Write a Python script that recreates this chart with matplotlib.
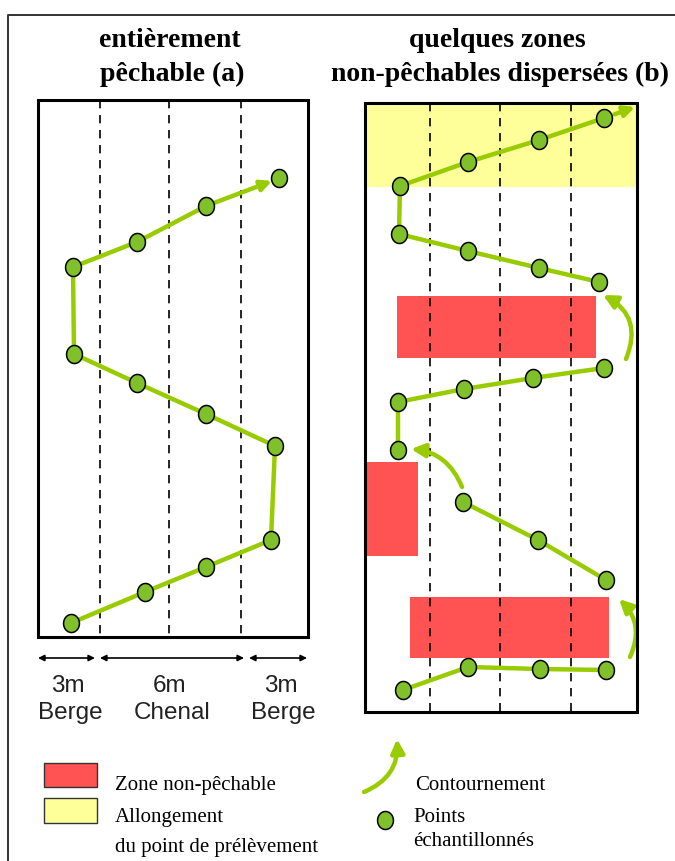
import matplotlib
matplotlib.use("Agg")
import numpy as np
import matplotlib.pyplot as plt
from matplotlib.patches import Rectangle, FancyArrowPatch
from matplotlib.path import Path

W, H = 675, 861

# panel (a): sampling points, bottom to top (pixel coords of the sketch)
ptsA_x = [71, 145, 206, 271, 275, 206, 137, 74, 73, 137, 206, 279]
ptsA_y = [623, 592, 567, 540, 446, 414, 383, 354, 267, 242, 206, 178]

# panel (b): four straight runs of points
runsB = [
    ([403, 468, 540, 606], [690, 667, 669, 670]),
    ([606, 538, 463], [580, 540, 502]),
    ([398, 398, 464, 533, 604], [450, 402, 389, 378, 368]),
    ([599, 539, 468, 399, 400, 468, 539, 604], [282, 268, 251, 234, 186, 162, 140, 118]),
]
# curved detours (start, end, bend)
detours = [((630, 657), (619, 599), 0.35),
           ((462, 487), (411, 449), 0.3),
           ((626, 359), (603, 295), 0.45)]

red_zones = [(397, 296, 199, 62), (366, 462, 52, 94), (410, 597, 199, 61)]
yellow_zone = (365, 103, 272, 84)

dashA = [100, 169, 241]
dashB = [430, 500, 571]

dim_labels = [("3m", "Berge"), ("6m", "Chenal"), ("3m", "Berge")]
dim_x = [68, 170, 281]
dim_spans = [(38, 95), (100, 244), (249, 307)]

LINE = "#99CC00"
DOT = "#80C02A"
RED = "#FF5252"
YEL = "#FFFF99"

# slightly tall ellipse marker
t = np.linspace(0, 2 * np.pi, 40)
egg = Path(np.column_stack([0.88 * np.cos(t), np.sin(t)]), closed=True)

fig = plt.figure(figsize=(W / 100, H / 100), dpi=100)
ax = fig.add_axes([0, 0, 1, 1])
ax.set_xlim(0, W)
ax.set_ylim(H, 0)
ax.axis("off")

# outer frame
ax.plot([8, 8, W], [H, 15, 15], color="#333333", lw=1.4)

# titles
tkw = dict(family="Liberation Serif", fontweight="bold", fontsize=20, ha="center", va="baseline")
ax.text(170, 47, "entièrement", **tkw)
ax.text(172, 81, "pêchable (a)", **tkw)
ax.text(497, 47, "quelques zones", **tkw)
ax.text(500, 81, "non-pêchables dispersées (b)", **tkw)

# zones
ax.add_patch(Rectangle(yellow_zone[:2], *yellow_zone[2:], color=YEL, lw=0, zorder=1))
for x, y, w, h in red_zones:
    ax.add_patch(Rectangle((x, y), w, h, color=RED, lw=0, zorder=1))

# boxes
ax.add_patch(Rectangle((38, 100), 270, 537, fill=False, ec="black", lw=2.2, zorder=5))
ax.add_patch(Rectangle((365, 103), 272, 609, fill=False, ec="black", lw=2.2, zorder=5))

for x in dashA:
    ax.plot([x, x], [100, 637], color="black", lw=1.2, ls=(0, (5, 4)), zorder=2)
for x in dashB:
    ax.plot([x, x], [103, 712], color="black", lw=1.2, ls=(0, (5, 4)), zorder=2)

mkw = dict(marker=egg, ms=13, mfc=DOT, mec="black", mew=1.1, ls="none", zorder=4)
LW = 3.2

# panel (a) path
ax.plot(ptsA_x[:-1], ptsA_y[:-1], color=LINE, lw=LW, zorder=3)
ax.add_patch(FancyArrowPatch((ptsA_x[-2], ptsA_y[-2]), (272, 181), arrowstyle="-|>",
                             mutation_scale=16, color=LINE, lw=LW, shrinkA=0, shrinkB=0, zorder=3))
ax.plot(ptsA_x, ptsA_y, **mkw)

# panel (b) path
for xs, ys in runsB:
    ax.plot(xs, ys, color=LINE, lw=LW, zorder=3)
    ax.plot(xs, ys, **mkw)
ax.add_patch(FancyArrowPatch((runsB[-1][0][-1], runsB[-1][1][-1]), (635, 107), arrowstyle="-|>",
                             mutation_scale=16, color=LINE, lw=LW, shrinkA=8, shrinkB=0, zorder=3))
for a, b, rad in detours:
    ax.add_patch(FancyArrowPatch(a, b, arrowstyle="-|>", mutation_scale=20,
                                 connectionstyle=f"arc3,rad={rad}", color=LINE, lw=LW,
                                 shrinkA=0, shrinkB=0, zorder=3))

# dimension arrows and labels
for (x0, x1), xm, (l1, l2) in zip(dim_spans, dim_x, dim_labels):
    ax.annotate("", xy=(x1, 658), xytext=(x0, 658),
                arrowprops=dict(arrowstyle="<|-|>", mutation_scale=9, color="black", lw=1.2,
                                shrinkA=0, shrinkB=0))
    ax.text(xm, 686, l1, family="Liberation Sans", fontsize=17.5, color="#222222", ha="center", va="center")
    ax.text(xm + 2, 713, l2, family="Liberation Sans", fontsize=17.5, color="#222222", ha="center", va="center")

# legend
lkw = dict(family="Liberation Serif", fontsize=15, ha="left", va="baseline")
ax.add_patch(Rectangle((44, 763), 53, 24, fc=RED, ec="#333333", lw=1, zorder=2))
ax.add_patch(Rectangle((44, 798), 53, 25, fc=YEL, ec="#333333", lw=1, zorder=2))
ax.text(115, 790, "Zone non-pêchable", **lkw)
ax.text(115, 822, "Allongement", **lkw)
ax.text(115, 852, "du point de prélèvement", **lkw)

ax.add_patch(FancyArrowPatch((364, 792), (397, 739), arrowstyle="-|>", mutation_scale=20,
                             connectionstyle="arc3,rad=0.35", color=LINE, lw=LW,
                             shrinkA=0, shrinkB=0))
ax.text(415, 790, "Contournement", **lkw)
ax.plot([385], [820], **mkw)
ax.text(413, 822, "Points", **lkw)
ax.text(413, 846, "échantillonnés", **lkw)

fig.savefig("out.png", dpi=100)
